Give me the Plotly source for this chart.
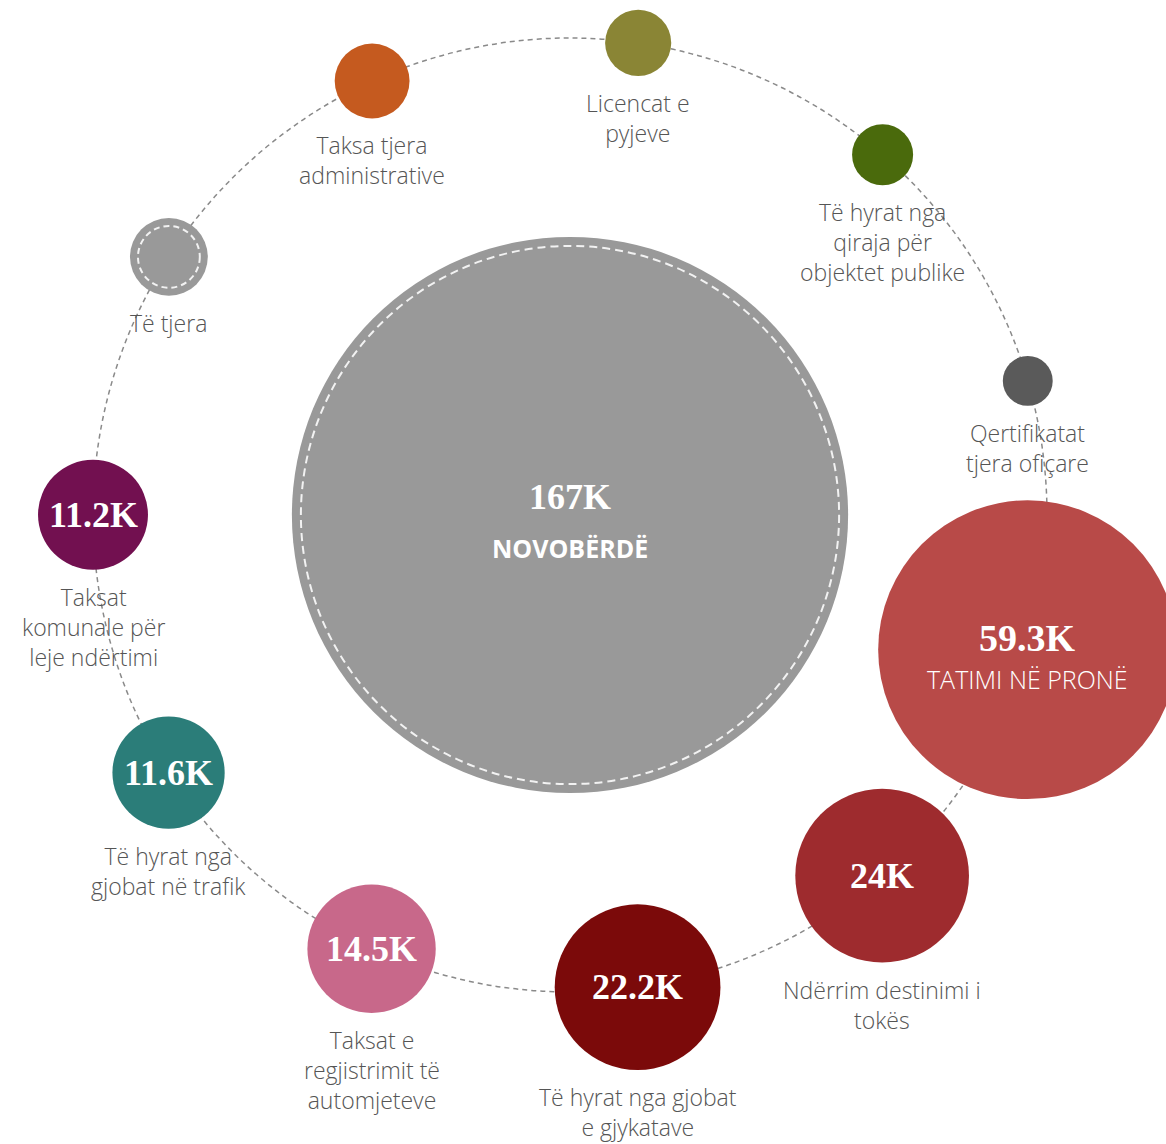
import math
import plotly.graph_objects as go

# ---------------- data ----------------
total_label = "167K"
total_name = "NOVOBËRDË"
total_value = 167.0

categories = [
    "Tatimi në pronë",
    "Ndërrim destinimi i tokës",
    "Të hyrat nga gjobat e gjykatave",
    "Taksat e regjistrimit të automjeteve",
    "Të hyrat nga gjobat në trafik",
    "Taksat komunale për leje ndërtimi",
    "Të tjera",
    "Taksa tjera administrative",
    "Licencat e pyjeve",
    "Të hyrat nga qiraja për objektet publike",
    "Qertifikatat tjera ofiçare",
]
values = [59.3, 24.0, 22.2, 14.5, 11.6, 11.2, 6.3, 5.9, 4.8, 4.2, 3.0]
value_labels = ["59.3K", "24K", "22.2K", "14.5K", "11.6K", "11.2K", "", "", "", "", ""]
display_labels = [
    "TATIMI NË PRONË",
    "Ndërrim destinimi i<br>tokës",
    "Të hyrat nga gjobat<br>e gjykatave",
    "Taksat e<br>regjistrimit të<br>automjeteve",
    "Të hyrat nga<br>gjobat në trafik",
    "Taksat<br>komunale për<br>leje ndërtimi",
    "Të tjera",
    "Taksa tjera<br>administrative",
    "Licencat e<br>pyjeve",
    "Të hyrat nga<br>qiraja për<br>objektet publike",
    "Qertifikatat<br>tjera ofiçare",
]

# ---------------- styles / layout ----------------
colors = ["#B84A48", "#9E2B2E", "#7B0A0A", "#C8688A", "#2B7D79", "#721050",
          "#999999", "#C55A1F", "#8A8535", "#4A6A0C", "#5A5A5A"]
center_color = "#999999"
W, H = 1166, 1144
CX, CY = 570, 515          # centre of the ring (px)
RING_R = 477               # ring radius (px)
START_ANGLE = -16.4        # angle of first (largest) bubble, degrees
STEP = 360.0 / len(values)
K, P = 12.9, 0.6           # radius (px) = K * value ** P

def radius(v):
    return K * v ** P

xs, ys, rs = [], [], []
for i, v in enumerate(values):
    a = math.radians(START_ANGLE - i * STEP)
    xs.append(CX + RING_R * math.cos(a))
    ys.append(CY - RING_R * math.sin(a))
    rs.append(radius(v))
r_total = radius(total_value)

fig = go.Figure()

# central bubble
fig.add_trace(go.Scatter(
    x=[CX], y=[CY], mode="markers",
    marker=dict(size=[2 * r_total], color=center_color, line=dict(width=0), opacity=1),
    hoverinfo="skip", showlegend=False,
))
# ring bubbles
fig.add_trace(go.Scatter(
    x=xs, y=ys, mode="markers",
    marker=dict(size=[2 * r for r in rs], color=colors, line=dict(width=0), opacity=1),
    text=categories, hoverinfo="text", showlegend=False,
))

shapes = [
    dict(type="circle", layer="below", xref="x", yref="y",
         x0=CX - RING_R, x1=CX + RING_R, y0=CY - RING_R, y1=CY + RING_R,
         line=dict(color="#8a8a8a", width=1.5, dash="5px,4px")),
    dict(type="circle", layer="above", xref="x", yref="y",
         x0=CX - (r_total - 9), x1=CX + (r_total - 9),
         y0=CY - (r_total - 9), y1=CY + (r_total - 9),
         line=dict(color="#f2f2f2", width=2, dash="8px,5px")),
]
# dashed inner ring for "Të tjera"
oi = categories.index("Të tjera")
ri = rs[oi] - 8
shapes.append(dict(type="circle", layer="above", xref="x", yref="y",
                   x0=xs[oi] - ri, x1=xs[oi] + ri, y0=ys[oi] - ri, y1=ys[oi] + ri,
                   line=dict(color="#f2f2f2", width=2, dash="6px,4px")))

annotations = []
SERIF = "Liberation Serif"
SANS = "Open Sans"
# central text
annotations.append(dict(x=CX, y=CY - 18, text="<b>" + total_label + "</b>", showarrow=False,
                        font=dict(family=SERIF, size=36, color="white"), xanchor="center", yanchor="middle"))
annotations.append(dict(x=CX, y=CY + 33, text="<b>" + total_name + "</b>", showarrow=False,
                        font=dict(family=SANS, size=25, color="white"), xanchor="center", yanchor="middle"))

for i in range(len(values)):
    if i == 0:
        annotations.append(dict(x=xs[i], y=ys[i] - 12, text="<b>" + value_labels[i] + "</b>", showarrow=False,
                                font=dict(family=SERIF, size=38, color="white"), xanchor="center", yanchor="middle"))
        annotations.append(dict(x=xs[i], y=ys[i] + 29, text=display_labels[i], showarrow=False,
                                font=dict(family=SANS, size=25, color="white", weight=300),
                                xanchor="center", yanchor="middle"))
        continue
    if value_labels[i]:
        annotations.append(dict(x=xs[i], y=ys[i], text="<b>" + value_labels[i] + "</b>", showarrow=False,
                                font=dict(family=SERIF, size=36, color="white"), xanchor="center", yanchor="middle"))
    annotations.append(dict(x=xs[i], y=ys[i] + rs[i] + 9, text=display_labels[i], showarrow=False,
                            font=dict(family=SANS, size=23, color="#555555", weight=300),
                            xanchor="center", yanchor="top", align="center"))

fig.update_layout(
    width=W, height=H,
    margin=dict(l=0, r=0, t=0, b=0),
    paper_bgcolor="white", plot_bgcolor="white",
    xaxis=dict(range=[0, W], visible=False, fixedrange=True),
    yaxis=dict(range=[H, 0], visible=False, fixedrange=True),
    shapes=shapes, annotations=annotations,
    hovermode="closest",
)

fig.write_html("out.html", post_script="document.body.style.margin='0';document.body.style.overflow='hidden';",
               config={"displayModeBar": False})
